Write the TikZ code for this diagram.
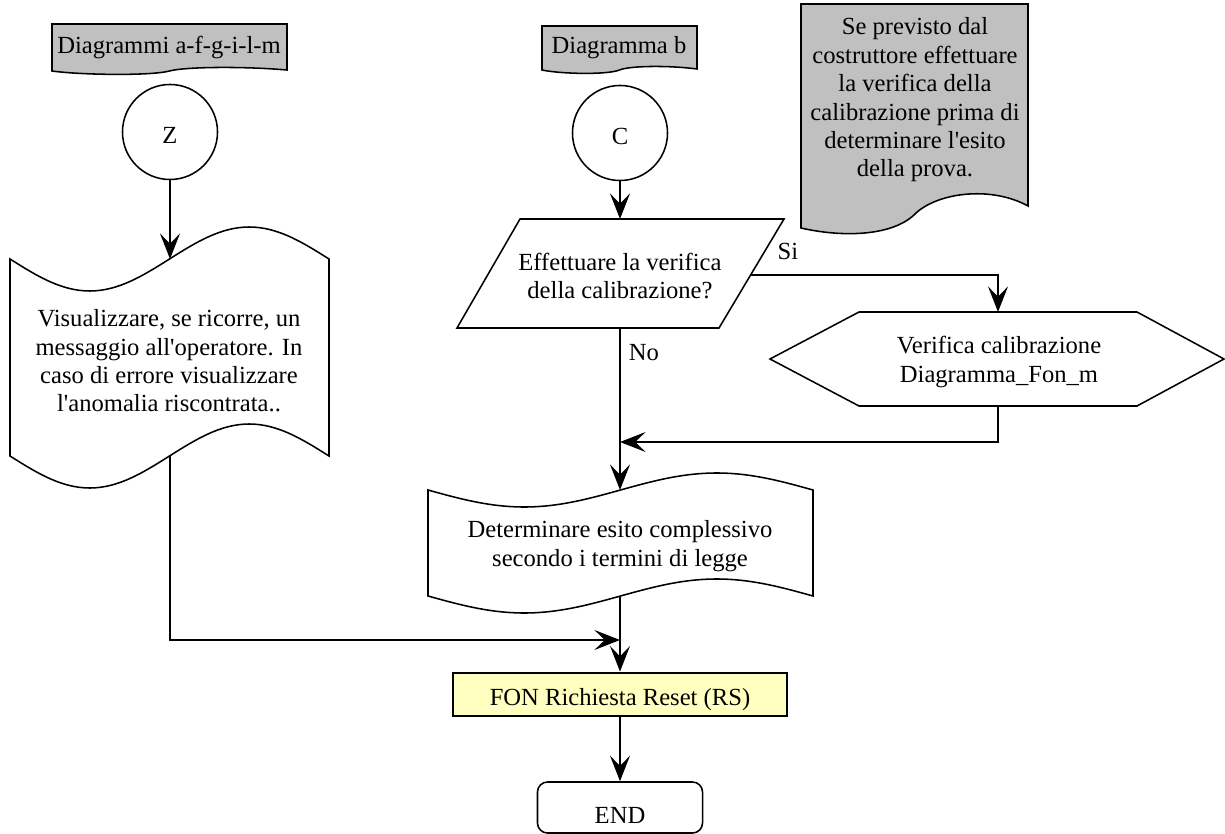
\documentclass[tikz,border=0pt]{standalone}
\usepackage{fontspec}
\setmainfont{Liberation Serif}[Ligatures=TeXOff]
\usepackage{tikz}
\usetikzlibrary{arrows.meta, calc}
\definecolor{notagrigio}{HTML}{C0C0C0}
\definecolor{resetgiallo}{HTML}{FFFFC0}

% nastro: bordo ondulato sopra e sotto (L, T, R, B, ampiezza)
\newcommand{\nastro}[5]{%
  \draw[forma] (#1,#2) sin ({#1+0.25*(#3-#1)},{#2+#5}) cos ({0.5*(#1+#3)},#2)
     sin ({#1+0.75*(#3-#1)},{#2-#5}) cos (#3,#2) -- (#3,#4)
     sin ({#1+0.75*(#3-#1)},{#4-#5}) cos ({0.5*(#1+#3)},#4)
     sin ({#1+0.25*(#3-#1)},{#4+#5}) cos (#1,#4) -- cycle;}
% foglio grigio con bordo inferiore ondulato (L, T, R, B)
\newcommand{\foglio}[4]{%
  \draw[forma, fill=notagrigio] (#1,#4) -- (#1,#2) -- (#3,#2) -- (#3,{#4-1})
     .. controls ({#1+0.8*(#3-#1)},{#4-5}) and ({#1+0.56*(#3-#1)},{#4-4}) .. ({0.5*(#1+#3)},#4)
     .. controls ({#1+0.42*(#3-#1)},{#4+5}) and ({#1+0.12*(#3-#1)},{#4+4}) .. (#1,#4) -- cycle;}

\begin{document}
\begin{tikzpicture}[x=0.025cm, y=-0.025cm, line width=1pt,
    font=\fontsize{17.5}{20.2}\selectfont,
    forma/.style={line width=1.1pt, line join=miter},
    testo/.style={align=center, inner sep=0pt},
    connettore/.style={circle, draw, line width=1.1pt, minimum size=2.375cm, inner sep=0pt,
        text height=0.55cm, text depth=0pt},
    azione/.style={rectangle, draw, line width=2pt, fill=resetgiallo, minimum width=8.35cm,
        minimum height=1.075cm, inner sep=0pt, text height=0.525cm, text depth=0pt},
    fine/.style={rectangle, draw, rounded corners=0.25cm, line width=1.1pt, minimum width=4.125cm,
        minimum height=1.275cm, inner sep=0pt, text height=0.8cm, text depth=0pt},
    freccia/.style={-{Stealth[length=0.64cm, width=0.5cm, inset=0.26cm]}, line width=1pt}]

    \useasboundingbox (0,0) rectangle (1225,834);

    % --- NOTE GRIGIE ---
    \foglio{52}{24}{287}{71}
    \node[anchor=base] (diagaf) at (169,54) {Diagrammi a-f-g-i-l-m};
    \foglio{542}{26}{697}{70}
    \node[anchor=base] (diagb) at (619,54) {Diagramma b};
    \draw[forma, fill=notagrigio] (801,228) -- (801,4) -- (1028,4) -- (1028,206)
        .. controls (990,185) and (935,193) .. (914,215)
        .. controls (890,237) and (840,237) .. (801,228) -- cycle;
    \node[testo] (nota) at (915,100) {Se previsto dal\\costruttore effettuare\\la verifica della\\calibrazione prima di\\determinare l'esito\\della prova.};

    % --- CONNETTORI ---
    \node[connettore] (z) at (170,132) {Z};
    \node[connettore] (c) at (620,133) {C};

    % --- RAMO SINISTRO ---
    \nastro{10}{259}{329}{456}{32}
    \node[testo] (messaggio) at (169,361) {Visualizzare, se ricorre, un\\messaggio all'operatore. In\\caso di errore visualizzare\\l'anomalia riscontrata..};
    \coordinate (messaggio in) at (170,259);
    \coordinate (messaggio out) at (170,456);

    % --- DOMANDA ---
    \draw[forma] (520,219) -- (784,219) -- (719,328) -- (457,328) -- cycle;
    \node[testo] (domanda) at (620,276) {Effettuare la verifica\\della calibrazione?};
    \coordinate (domanda in) at (620,219);
    \coordinate (domanda si) at (751,275);
    \coordinate (domanda no) at (620,328);
    \node[anchor=base] (si) at (788,260) {Si};
    \node[anchor=base] (no) at (644,360) {No};

    % --- VERIFICA CALIBRAZIONE ---
    \draw[forma] (770,359) -- (859,312) -- (1137,312) -- (1224,359) -- (1137,406) -- (859,406) -- cycle;
    \node[testo] (verifica) at (999,362) {Verifica calibrazione\\Diagramma\_Fon\_m};
    \coordinate (verifica in) at (998,312);
    \coordinate (verifica out) at (998,406);
    \coordinate (rientro) at (620,442);

    % --- ESITO ---
    \nastro{428}{490}{813}{596}{17}
    \node[testo] (esito) at (620,546) {Determinare esito complessivo\\secondo i termini di legge};
    \coordinate (esito in) at (620,490);
    \coordinate (esito out) at (620,596);
    \coordinate (unione) at (620,640);

    % --- FINE ---
    \node[azione] (reset) at (620,694.5) {FON Richiesta Reset (RS)};
    \node[fine] (fine) at (620,807.5) {END};

    % --- FRECCE ---
    \draw[freccia] (z) -- (messaggio in);
    \draw[freccia] (c) -- (domanda in);
    \draw[freccia] (domanda si) -| (verifica in);
    \draw[freccia] (verifica out) |- (rientro);
    \draw[freccia] (domanda no) -- (esito in);
    \draw[freccia] (messaggio out) |- (unione);
    \draw[freccia] (esito out) -- (reset);
    \draw[freccia] (reset) -- (fine);

\end{tikzpicture}
\end{document}
